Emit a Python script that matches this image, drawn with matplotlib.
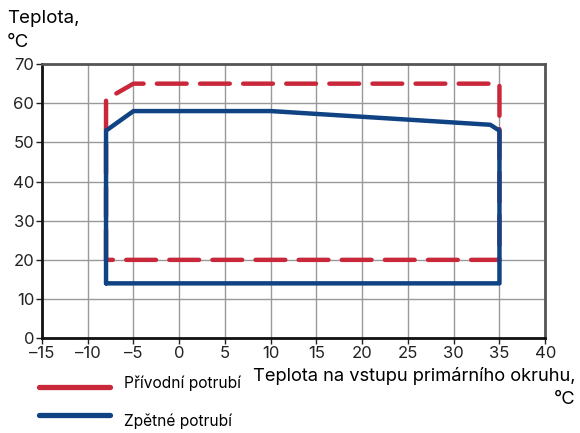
import matplotlib
matplotlib.use("Agg")
import matplotlib.pyplot as plt
from matplotlib.lines import Line2D

plt.rcParams['font.family'] = ['Inter', 'DejaVu Sans']

# supply line (dashed red) outline
supply_x = [-8, -8, -5, 35, 35, -8]
supply_y = [20, 61, 65, 65, 20, 20]
# return line (solid blue) outline
return_x = [-8, -8, -5, 10, 34, 35, 35, -8]
return_y = [14, 53, 58, 58, 54.5, 53, 14, 14]

labels = ["Přívodní potrubí", "Zpětné potrubí"]
red = "#c8283a"
blue = "#0f4384"

fig = plt.figure(figsize=(5.8, 4.33), dpi=100)
ax = fig.add_axes([0.0724, 0.219, 0.8676, 0.633])

ax.plot(supply_x, supply_y, color=red, lw=3.2, dashes=(6.7, 3), solid_joinstyle="round",
        dash_capstyle="round")
ax.plot(return_x, return_y, color=blue, lw=3.2, solid_joinstyle="round", solid_capstyle="round")

ax.set_xlim(-15, 40)
ax.set_ylim(0, 70)
ax.set_xticks(range(-15, 41, 5))
ax.set_xticklabels([str(v).replace("-", "\u2013") for v in range(-15, 41, 5)])
ax.set_yticks(range(0, 71, 10))
ax.grid(color="#999999", lw=1)
ax.set_axisbelow(True)
ax.tick_params(labelsize=12, length=4, width=1, pad=1.5, colors="#222222")
for s in ["left", "bottom"]:
    ax.spines[s].set_color("#111111")
    ax.spines[s].set_linewidth(2)
for s in ["top", "right"]:
    ax.spines[s].set_color("#555555")
    ax.spines[s].set_linewidth(2)

fig.text(0.012, 0.978, "Teplota,\n°C", ha="left", va="top", fontsize=13.5, linespacing=1.6)
fig.text(0.992, 0.153, "Teplota na vstupu primárního okruhu,\n°C", ha="right", va="top",
         fontsize=13.2, linespacing=1.5)

# legend drawn by hand (line and text are not centred on each other in the reference)
leg_y_line = [1 - 387 / 433, 1 - 415 / 433]
leg_y_text = [1 - 383 / 433, 1 - 421 / 433]
for col, lab, yl, yt in zip([red, blue], labels, leg_y_line, leg_y_text):
    fig.add_artist(Line2D([0.068, 0.19], [yl, yl], color=col, lw=3.8,
                          solid_capstyle="round", transform=fig.transFigure))
    fig.text(0.213, yt, lab, ha="left", va="center", fontsize=11.2)

fig.savefig("out.png", dpi=100)
